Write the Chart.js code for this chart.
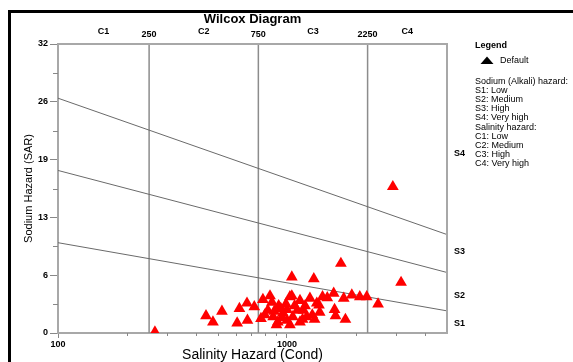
<!DOCTYPE html>
<html>
<head>
<meta charset="utf-8">
<script src="https://cdn.jsdelivr.net/npm/chart.js@4.4.0/dist/chart.umd.min.js"></script>
<style>
  html, body { margin: 0; padding: 0; background: #fff; }
</style>
</head>
<body>
<canvas id="wilcox" width="573" height="362"></canvas>
<script>
// samples: electrical conductivity (uS/cm) and SAR
var ecValues = [265, 2900, 1720, 3150, 1050, 1310,
  443, 475, 520, 606, 620, 669, 672, 720, 770, 785, 843,
  825, 860, 870, 900, 920, 912, 960, 1000, 1030, 1030, 1060, 1050,
  1110, 1140, 1140, 1180, 1220, 1260, 1290, 1350, 1390, 1430, 1380,
  1600, 1614, 1630, 1770, 1800, 1920, 2080, 2230, 2500,
  940, 990, 1080, 800, 880, 1200, 1170, 950, 1320, 1500, 1000];
var sarValues = [0.1, 16.2, 7.7, 5.6, 6.2, 6.0,
  1.9, 1.2, 2.4, 1.1, 2.7, 3.3, 1.4, 2.9, 1.6, 3.7, 4.1,
  2.5, 3.4, 1.8, 0.9, 3.0, 1.2, 2.2, 1.4, 4.0, 0.9, 1.8, 4.1,
  2.5, 3.6, 1.2, 2.5, 1.8, 3.85, 2.0, 3.3, 2.3, 4.0, 3.1,
  4.4, 2.6, 1.9, 3.85, 1.5, 4.2, 4.0, 4.0, 3.2,
  2.7, 3.2, 3.0, 2.0, 2.4, 3.0, 1.5, 1.7, 1.5, 3.9, 2.6];

// salinity class boundaries and labels
var salinityBreaks = [250, 750, 2250];
var salinityClasses = ['C1', 'C2', 'C3', 'C4'];
var salinityClassAt = [158, 433, 1299, 3354];

// sodium hazard boundaries: SAR at EC = 100 and EC = 5000
var sodiumLeft = [10, 18, 26];
var sodiumRight = [2.45, 6.7, 10.9];
var sodiumClasses = ['S1', 'S2', 'S3', 'S4'];
var sodiumClassAt = [1.1, 4.1, 9.0, 19.9];

var yTicks = [0, 6.4, 12.8, 19.2, 25.6, 32];
var yTickLabels = ['0', '6', '13', '19', '26', '32'];
var yMinorTicks = [3.2, 9.6, 16, 22.4, 28.8];
var xTicks = [100, 1000];
var xMinorTicks = [200, 300, 400, 500, 600, 700, 800, 900, 2000, 3000, 4000];

var legendSodium = ['Sodium (Alkali) hazard:', 'S1: Low', 'S2: Medium', 'S3: High', 'S4: Very high'];
var legendSalinity = ['Salinity hazard:', 'C1: Low', 'C2: Medium', 'C3: High', 'C4: Very high'];

var FONT = '"Liberation Sans", Arial, sans-serif';

var points = ecValues.map(function (ec, i) { return { x: ec, y: sarValues[i] }; });

var datasets = [{
  label: 'Default',
  type: 'scatter',
  data: points,
  pointStyle: 'triangle',
  pointRadius: 6.8,
  backgroundColor: '#ff0000',
  borderColor: '#ff0000',
  borderWidth: 0
}];
sodiumLeft.forEach(function (s, i) {
  datasets.push({
    type: 'line',
    data: [{ x: 100, y: s }, { x: 5000, y: sodiumRight[i] }],
    borderColor: '#6a6a6a',
    borderWidth: 1,
    pointRadius: 0
  });
});
salinityBreaks.forEach(function (b) {
  datasets.push({
    type: 'line',
    data: [{ x: b, y: 0 }, { x: b, y: 32 }],
    borderColor: '#8c8c8c',
    borderWidth: 1.5,
    pointRadius: 0
  });
});

var extras = {
  id: 'extras',
  afterDraw: function (chart) {
    var ctx = chart.ctx, a = chart.chartArea;
    var xs = chart.scales.x, ys = chart.scales.y;
    ctx.save();

    // outer frame
    ctx.strokeStyle = '#000';
    ctx.lineWidth = 3;
    ctx.strokeRect(9.5, 11.5, 620, 400);

    // top and right edge of the plot
    ctx.strokeStyle = '#a8a8a8';
    ctx.lineWidth = 2;
    ctx.beginPath();
    ctx.moveTo(a.left, a.top); ctx.lineTo(a.right, a.top); ctx.lineTo(a.right, a.bottom);
    ctx.stroke();

    // minor ticks
    ctx.lineWidth = 1;
    ctx.strokeStyle = '#888';
    ctx.beginPath();
    yMinorTicks.forEach(function (v) {
      var py = Math.round(ys.getPixelForValue(v)) + 0.5;
      ctx.moveTo(a.left - 5, py); ctx.lineTo(a.left, py);
    });
    xMinorTicks.forEach(function (v) {
      var px = Math.round(xs.getPixelForValue(v)) + 0.5;
      ctx.moveTo(px, a.bottom); ctx.lineTo(px, a.bottom + 3);
    });
    ctx.stroke();

    ctx.fillStyle = '#000';
    ctx.textBaseline = 'middle';

    // salinity labels along the top
    ctx.font = 'bold 9px ' + FONT;
    ctx.textAlign = 'center';
    salinityBreaks.forEach(function (b) {
      ctx.fillText(String(b), xs.getPixelForValue(b), 35);
    });
    salinityClasses.forEach(function (c, i) {
      ctx.fillText(c, xs.getPixelForValue(salinityClassAt[i]), 32);
    });

    // sodium labels on the right
    ctx.textAlign = 'left';
    sodiumClasses.forEach(function (s, i) {
      ctx.fillText(s, a.right + 7, ys.getPixelForValue(sodiumClassAt[i]));
    });

    // legend
    ctx.font = 'bold 9px ' + FONT;
    ctx.fillText('Legend', 475, 46);
    ctx.beginPath();
    ctx.moveTo(487, 56.5); ctx.lineTo(493.5, 64); ctx.lineTo(480.5, 64);
    ctx.closePath();
    ctx.fill();
    ctx.font = '9px ' + FONT;
    ctx.fillText('Default', 500, 61);
    legendSodium.forEach(function (t, i) { ctx.fillText(t, 475, 82 + i * 8.9); });
    legendSalinity.forEach(function (t, i) { ctx.fillText(t, 475, 128 + i * 8.9); });

    ctx.restore();
  }
};

new Chart(document.getElementById('wilcox'), {
  type: 'scatter',
  data: { datasets: datasets },
  options: {
    responsive: false,
    animation: false,
    devicePixelRatio: 1,
    layout: { padding: { left: 12, right: 126, top: 8, bottom: 0 } },
    plugins: {
      legend: { display: false },
      tooltip: { enabled: false },
      title: {
        display: true,
        text: 'Wilcox Diagram',
        fullSize: false,
        color: '#000',
        font: { family: FONT, size: 13, weight: 'bold' },
        padding: { top: 4, bottom: 16.4 }
      }
    },
    scales: {
      x: {
        type: 'logarithmic',
        min: 100,
        max: 5000,
        afterBuildTicks: function (s) { s.ticks = xTicks.map(function (v) { return { value: v }; }); },
        afterFit: function (s) { s.height = 29; },
        ticks: {
          callback: function (v) { return String(v); },
          color: '#000',
          padding: 1,
          maxRotation: 0,
          font: { family: FONT, size: 9, weight: 'bold' }
        },
        grid: { drawOnChartArea: false, tickLength: 5, color: '#888' },
        border: { color: '#a8a8a8', width: 2 },
        title: {
          display: true,
          text: 'Salinity Hazard (Cond)',
          color: '#000',
          font: { family: FONT, size: 14 },
          padding: { top: 0, bottom: -2 }
        }
      },
      y: {
        min: 0,
        max: 32,
        afterBuildTicks: function (s) { s.ticks = yTicks.map(function (v) { return { value: v }; }); },
        afterFit: function (s) { s.width = 46; },
        ticks: {
          callback: function (v, i) { return yTickLabels[i]; },
          color: '#000',
          padding: 2,
          font: { family: FONT, size: 9, weight: 'bold' }
        },
        grid: { drawOnChartArea: false, tickLength: 8, color: '#888' },
        border: { color: '#a8a8a8', width: 2 },
        title: {
          display: true,
          text: 'Sodium Hazard (SAR)',
          color: '#000',
          font: { family: FONT, size: 11 },
          padding: { top: 10.4, bottom: 0 }
        }
      }
    }
  },
  plugins: [extras]
});
</script>
</body>
</html>
